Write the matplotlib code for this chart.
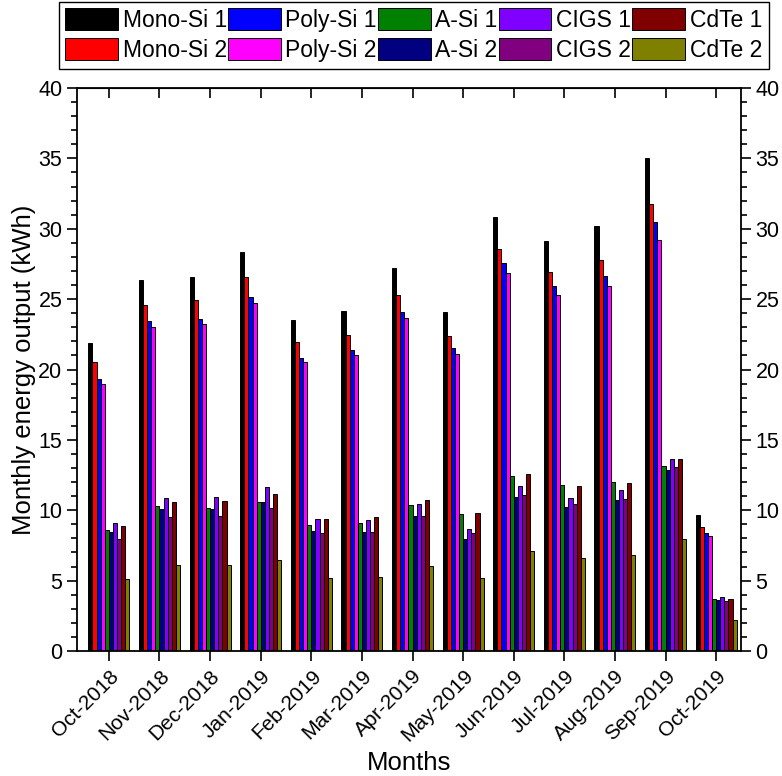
import numpy as np
import matplotlib
matplotlib.use("Agg")
import matplotlib.pyplot as plt
from matplotlib.ticker import MultipleLocator

plt.rcParams['font.family'] = ['Liberation Sans', 'DejaVu Sans']

months = ['Oct-2018', 'Nov-2018', 'Dec-2018', 'Jan-2019', 'Feb-2019', 'Mar-2019', 'Apr-2019',
          'May-2019', 'Jun-2019', 'Jul-2019', 'Aug-2019', 'Sep-2019', 'Oct-2019']

mono1 = [21.85, 26.36, 26.6, 28.33, 23.51, 24.15, 27.24, 24.06, 30.84, 29.11, 30.19, 35.05, 9.68]
mono2 = [20.5, 24.56, 24.93, 26.6, 21.92, 22.47, 25.31, 22.4, 28.54, 26.9, 27.78, 31.77, 8.81]
poly1 = [19.36, 23.44, 23.56, 25.12, 20.85, 21.4, 24.1, 21.5, 27.54, 25.9, 26.61, 30.45, 8.41]
poly2 = [19.0, 23.04, 23.25, 24.75, 20.52, 21.02, 23.68, 21.09, 26.85, 25.27, 25.95, 29.18, 8.2]
asi1 = [8.63, 10.3, 10.15, 10.56, 8.94, 9.09, 10.39, 9.75, 12.41, 11.79, 12.04, 13.15, 3.68]
asi2 = [8.45, 10.08, 10.08, 10.56, 8.56, 8.47, 9.61, 7.97, 10.96, 10.2, 10.71, 12.86, 3.6]
cigs1 = [9.09, 10.89, 10.94, 11.65, 9.37, 9.32, 10.44, 8.66, 11.69, 10.9, 11.43, 13.62, 3.81]
cigs2 = [7.97, 9.51, 9.56, 10.15, 8.37, 8.49, 9.61, 8.37, 11.1, 10.45, 10.77, 13.07, 3.57]
cdte1 = [8.85, 10.56, 10.63, 11.15, 9.4, 9.51, 10.72, 9.84, 12.58, 11.72, 11.96, 13.65, 3.7]
cdte2 = [5.08, 6.12, 6.1, 6.48, 5.2, 5.27, 6.07, 5.22, 7.12, 6.59, 6.85, 7.96, 2.2]

series = [mono1, mono2, poly1, poly2, asi1, asi2, cigs1, cigs2, cdte1, cdte2]
labels = ['Mono-Si 1', 'Mono-Si 2', 'Poly-Si 1', 'Poly-Si 2', 'A-Si 1', 'A-Si 2',
          'CIGS 1', 'CIGS 2', 'CdTe 1', 'CdTe 2']
colors = ['#000000', '#FF0000', '#0000FF', '#FF00FF', '#008000', '#000080',
          '#8000FF', '#800080', '#800000', '#808000']

fig = plt.figure(figsize=(7.82, 7.76), dpi=100)
ax = fig.add_axes([77 / 782, 125 / 776, 664 / 782, 563 / 776])

x = np.arange(len(months))
width = 0.081
for i, (vals, lab, col) in enumerate(zip(series, labels, colors)):
    ax.bar(x + (i - 4.5) * width, vals, width, color=col, edgecolor='black',
           linewidth=0.7, label=lab)

ax.set_xlim(-0.63, 12.49)
ax.set_ylim(0, 40)
ax.set_xticks(x)
ax.set_xticklabels(months, rotation=45, ha='right', rotation_mode='anchor', fontsize=15)
ax.yaxis.set_major_locator(MultipleLocator(5))
ax.yaxis.set_minor_locator(MultipleLocator(1))
ax.tick_params(axis='y', which='both', direction='out', left=True, right=True,
               labelright=True, labelsize=15.5, width=1.2)
ax.tick_params(axis='y', which='major', length=7)
ax.tick_params(axis='y', which='minor', length=4)
ax.tick_params(axis='x', direction='out', length=7, width=1.2, pad=4)

top = ax.secondary_xaxis('top')
top.set_xticks(x)
top.set_xticklabels([])
top.tick_params(direction='in', length=7, width=1.2)

for sp in ax.spines.values():
    sp.set_linewidth(1.3)

ax.set_xlabel('Months', fontsize=18.5, labelpad=4)
ax.set_ylabel('Monthly energy output (kWh)', fontsize=18.5, labelpad=2)

leg = fig.legend(loc='upper center', bbox_to_anchor=(0.529, 0.998), ncol=5, fontsize=16.5,
                 handlelength=2.3, handleheight=1.1, handletextpad=0.2, columnspacing=0.05,
                 labelspacing=0.25, borderpad=0.3, borderaxespad=0, fancybox=False,
                 edgecolor='black', framealpha=1)
leg.get_frame().set_linewidth(1.0)

plt.savefig('out.png', dpi=100)
plt.close()
